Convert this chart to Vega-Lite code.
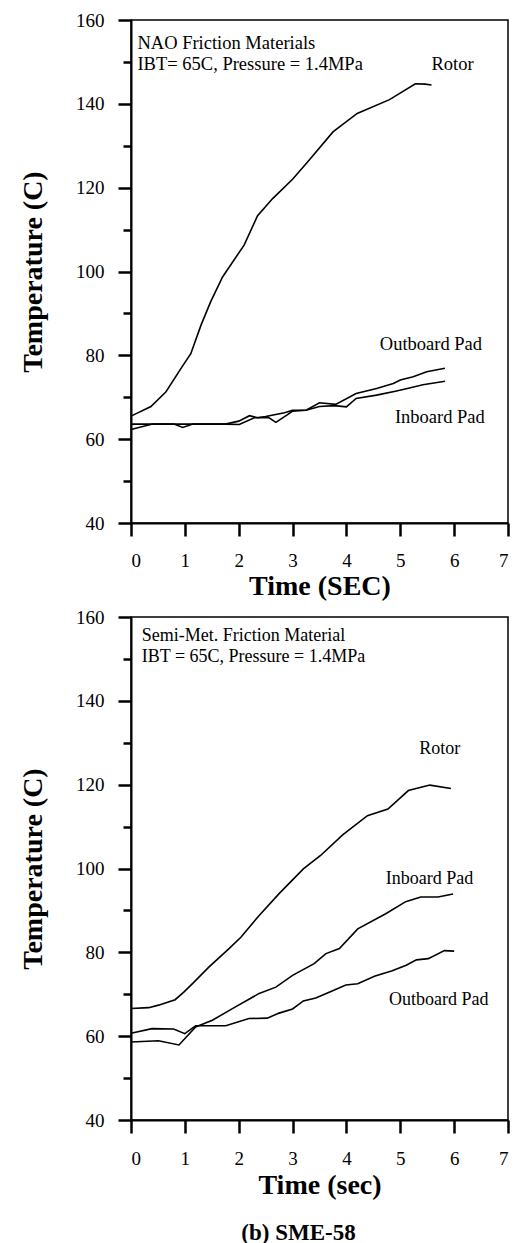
{
  "$schema": "https://vega.github.io/schema/vega-lite/v6.json",
  "padding": {"left": 18, "top": 10, "right": 4, "bottom": 2},
  "background": "white",
  "spacing": 6,
  "datasets": {
    "top": [
      {"series": "Rotor", "t": 0, "temp": 65.5}, {"series": "Rotor", "t": 0.37, "temp": 67.8}, {"series": "Rotor", "t": 0.65, "temp": 71.3}, {"series": "Rotor", "t": 0.95, "temp": 77.3}, {"series": "Rotor", "t": 1.11, "temp": 80.4}, {"series": "Rotor", "t": 1.3, "temp": 87.2}, {"series": "Rotor", "t": 1.48, "temp": 92.8}, {"series": "Rotor", "t": 1.7, "temp": 98.7}, {"series": "Rotor", "t": 2.1, "temp": 106.3}, {"series": "Rotor", "t": 2.35, "temp": 113.3}, {"series": "Rotor", "t": 2.63, "temp": 117.4}, {"series": "Rotor", "t": 3.0, "temp": 122}, {"series": "Rotor", "t": 3.31, "temp": 126.6}, {"series": "Rotor", "t": 3.75, "temp": 133.3}, {"series": "Rotor", "t": 4.2, "temp": 137.7}, {"series": "Rotor", "t": 4.8, "temp": 141}, {"series": "Rotor", "t": 5.28, "temp": 144.8}, {"series": "Rotor", "t": 5.46, "temp": 144.7}, {"series": "Rotor", "t": 5.58, "temp": 144.5},
      {"series": "Outboard Pad", "t": 0, "temp": 63.6}, {"series": "Outboard Pad", "t": 0.4, "temp": 63.6}, {"series": "Outboard Pad", "t": 1.0, "temp": 63.6}, {"series": "Outboard Pad", "t": 1.75, "temp": 63.6}, {"series": "Outboard Pad", "t": 2.0, "temp": 64.3}, {"series": "Outboard Pad", "t": 2.2, "temp": 65.6}, {"series": "Outboard Pad", "t": 2.35, "temp": 65.1}, {"series": "Outboard Pad", "t": 2.5, "temp": 65.4}, {"series": "Outboard Pad", "t": 2.85, "temp": 66.3}, {"series": "Outboard Pad", "t": 3.0, "temp": 66.9}, {"series": "Outboard Pad", "t": 3.25, "temp": 66.9}, {"series": "Outboard Pad", "t": 3.5, "temp": 68.7}, {"series": "Outboard Pad", "t": 3.8, "temp": 68.3}, {"series": "Outboard Pad", "t": 4.18, "temp": 70.9}, {"series": "Outboard Pad", "t": 4.56, "temp": 72.1}, {"series": "Outboard Pad", "t": 4.87, "temp": 73.3}, {"series": "Outboard Pad", "t": 5.0, "temp": 74.1}, {"series": "Outboard Pad", "t": 5.24, "temp": 74.9}, {"series": "Outboard Pad", "t": 5.49, "temp": 76.1}, {"series": "Outboard Pad", "t": 5.83, "temp": 76.9},
      {"series": "Inboard Pad", "t": 0, "temp": 62.3}, {"series": "Inboard Pad", "t": 0.4, "temp": 63.6}, {"series": "Inboard Pad", "t": 0.8, "temp": 63.6}, {"series": "Inboard Pad", "t": 0.96, "temp": 62.8}, {"series": "Inboard Pad", "t": 1.15, "temp": 63.6}, {"series": "Inboard Pad", "t": 1.75, "temp": 63.6}, {"series": "Inboard Pad", "t": 2.01, "temp": 63.5}, {"series": "Inboard Pad", "t": 2.29, "temp": 65.1}, {"series": "Inboard Pad", "t": 2.55, "temp": 65.2}, {"series": "Inboard Pad", "t": 2.69, "temp": 64.0}, {"series": "Inboard Pad", "t": 2.9, "temp": 65.8}, {"series": "Inboard Pad", "t": 3.0, "temp": 66.7}, {"series": "Inboard Pad", "t": 3.25, "temp": 66.9}, {"series": "Inboard Pad", "t": 3.5, "temp": 67.8}, {"series": "Inboard Pad", "t": 3.78, "temp": 68.0}, {"series": "Inboard Pad", "t": 4.0, "temp": 67.7}, {"series": "Inboard Pad", "t": 4.18, "temp": 69.7}, {"series": "Inboard Pad", "t": 4.56, "temp": 70.5}, {"series": "Inboard Pad", "t": 4.93, "temp": 71.5}, {"series": "Inboard Pad", "t": 5.17, "temp": 72.2}, {"series": "Inboard Pad", "t": 5.42, "temp": 73.0}, {"series": "Inboard Pad", "t": 5.83, "temp": 73.8}
    ],
    "topLabels": [
      {"t": 0.12, "temp": 154.4, "label": "NAO Friction Materials"},
      {"t": 0.12, "temp": 149.4, "label": "IBT= 65C, Pressure = 1.4MPa"},
      {"t": 5.58, "temp": 149.4, "label": "Rotor"},
      {"t": 4.62, "temp": 82.7, "label": "Outboard Pad"},
      {"t": 4.9, "temp": 65.3, "label": "Inboard Pad"}
    ],
    "bottom": [
      {"series": "Rotor", "t": 0, "temp": 66.6}, {"series": "Rotor", "t": 0.33, "temp": 66.8}, {"series": "Rotor", "t": 0.51, "temp": 67.4}, {"series": "Rotor", "t": 0.82, "temp": 68.7}, {"series": "Rotor", "t": 0.98, "temp": 70.5}, {"series": "Rotor", "t": 1.17, "temp": 72.9}, {"series": "Rotor", "t": 1.44, "temp": 76.4}, {"series": "Rotor", "t": 1.82, "temp": 80.9}, {"series": "Rotor", "t": 2.04, "temp": 83.6}, {"series": "Rotor", "t": 2.38, "temp": 88.8}, {"series": "Rotor", "t": 2.75, "temp": 94.0}, {"series": "Rotor", "t": 3.0, "temp": 97.3}, {"series": "Rotor", "t": 3.2, "temp": 99.9}, {"series": "Rotor", "t": 3.52, "temp": 103.1}, {"series": "Rotor", "t": 3.93, "temp": 108}, {"series": "Rotor", "t": 4.39, "temp": 112.6}, {"series": "Rotor", "t": 4.77, "temp": 114.2}, {"series": "Rotor", "t": 5.15, "temp": 118.6}, {"series": "Rotor", "t": 5.55, "temp": 119.9}, {"series": "Rotor", "t": 5.94, "temp": 119.1},
      {"series": "Inboard Pad", "t": 0, "temp": 58.6}, {"series": "Inboard Pad", "t": 0.51, "temp": 58.9}, {"series": "Inboard Pad", "t": 0.89, "temp": 57.9}, {"series": "Inboard Pad", "t": 1.2, "temp": 62.2}, {"series": "Inboard Pad", "t": 1.51, "temp": 63.8}, {"series": "Inboard Pad", "t": 1.94, "temp": 67.0}, {"series": "Inboard Pad", "t": 2.38, "temp": 70.2}, {"series": "Inboard Pad", "t": 2.69, "temp": 71.7}, {"series": "Inboard Pad", "t": 3.0, "temp": 74.5}, {"series": "Inboard Pad", "t": 3.4, "temp": 77.3}, {"series": "Inboard Pad", "t": 3.62, "temp": 79.7}, {"series": "Inboard Pad", "t": 3.87, "temp": 80.9}, {"series": "Inboard Pad", "t": 4.21, "temp": 85.6}, {"series": "Inboard Pad", "t": 4.73, "temp": 89.2}, {"series": "Inboard Pad", "t": 5.1, "temp": 92.1}, {"series": "Inboard Pad", "t": 5.38, "temp": 93.2}, {"series": "Inboard Pad", "t": 5.7, "temp": 93.2}, {"series": "Inboard Pad", "t": 5.98, "temp": 93.9},
      {"series": "Outboard Pad", "t": 0, "temp": 60.7}, {"series": "Outboard Pad", "t": 0.39, "temp": 61.8}, {"series": "Outboard Pad", "t": 0.79, "temp": 61.7}, {"series": "Outboard Pad", "t": 1.0, "temp": 60.6}, {"series": "Outboard Pad", "t": 1.2, "temp": 62.5}, {"series": "Outboard Pad", "t": 1.76, "temp": 62.5}, {"series": "Outboard Pad", "t": 2.19, "temp": 64.2}, {"series": "Outboard Pad", "t": 2.53, "temp": 64.3}, {"series": "Outboard Pad", "t": 2.75, "temp": 65.5}, {"series": "Outboard Pad", "t": 3.0, "temp": 66.5}, {"series": "Outboard Pad", "t": 3.2, "temp": 68.4}, {"series": "Outboard Pad", "t": 3.43, "temp": 69.1}, {"series": "Outboard Pad", "t": 3.68, "temp": 70.5}, {"series": "Outboard Pad", "t": 3.99, "temp": 72.2}, {"series": "Outboard Pad", "t": 4.21, "temp": 72.5}, {"series": "Outboard Pad", "t": 4.52, "temp": 74.3}, {"series": "Outboard Pad", "t": 4.85, "temp": 75.6}, {"series": "Outboard Pad", "t": 5.11, "temp": 76.9}, {"series": "Outboard Pad", "t": 5.3, "temp": 78.2}, {"series": "Outboard Pad", "t": 5.52, "temp": 78.5}, {"series": "Outboard Pad", "t": 5.82, "temp": 80.4}, {"series": "Outboard Pad", "t": 6.0, "temp": 80.3}
    ],
    "bottomLabels": [
      {"t": 0.2, "temp": 155.5, "label": "Semi-Met. Friction Material"},
      {"t": 0.2, "temp": 150.5, "label": "IBT = 65C, Pressure = 1.4MPa"},
      {"t": 5.35, "temp": 128.6, "label": "Rotor"},
      {"t": 4.73, "temp": 97.6, "label": "Inboard Pad"},
      {"t": 4.79, "temp": 68.6, "label": "Outboard Pad"}
    ]
  },
  "config": {
    "view": {"stroke": "black", "strokeWidth": 1.5},
    "axis": {
      "grid": false,
      "ticks": true,
      "domainColor": "black",
      "domainWidth": 2,
      "tickColor": "black",
      "tickWidth": 2.5,
      "tickSize": 13,
      "labelFont": "Liberation Serif",
      "labelFontSize": 19,
      "labelColor": "black",
      "labelOverlap": false,
      "titleFont": "Liberation Serif",
      "titleFontSize": 28,
      "titleFontWeight": "bold",
      "titleColor": "black",
      "zindex": 1
    },
    "text": {"font": "Liberation Serif", "fontSize": 18.5, "color": "black", "align": "left", "baseline": "middle"},
    "line": {"color": "black", "strokeWidth": 1.6}
  },
  "vconcat": [
    {
      "width": 377,
      "height": 503,
      "encoding": {
        "x": {"field": "t", "type": "quantitative", "scale": {"domain": [0, 7], "nice": false},
              "axis": {"title": "Time (SEC)", "values": [0, 1, 2, 3, 4, 5, 6, 7], "ticks": true, "tickSize": 13, "tickWidth": 2.5, "tickColor": "black", "labelPadding": 15, "titlePadding": 2}},
        "y": {"field": "temp", "type": "quantitative", "scale": {"domain": [40, 160], "nice": false, "zero": false},
              "axis": {"title": "Temperature (C)", "values": [40, 50, 60, 70, 80, 90, 100, 110, 120, 130, 140, 150, 160],
                       "labelExpr": "datum.value % 20 === 0 ? datum.label : ''",
                       "ticks": true, "tickSize": 13, "tickWidth": 2.5, "tickColor": "black",
                       "tickDash": {"condition": {"test": "datum.value % 20 !== 0", "value": [8, 40]}, "value": [100, 0]},
                       "labelPadding": 14, "titlePadding": 28}}
      },
      "layer": [
        {"data": {"name": "top"}, "mark": {"type": "line"}, "encoding": {"detail": {"field": "series"}}},
        {"data": {"name": "topLabels"}, "mark": {"type": "text", "fontSize": 18.5}, "encoding": {"text": {"field": "label"}}}
      ]
    },
    {
      "width": 377,
      "height": 503,
      "title": {"text": "(b) SME-58", "orient": "bottom", "anchor": "middle", "frame": "group", "dx": -21, "offset": 23,
                "font": "Liberation Serif", "fontSize": 23, "fontWeight": "bold", "color": "black"},
      "encoding": {
        "x": {"field": "t", "type": "quantitative", "scale": {"domain": [0, 7], "nice": false},
              "axis": {"title": "Time (sec)", "values": [0, 1, 2, 3, 4, 5, 6, 7], "ticks": true, "tickSize": 13, "tickWidth": 2.5, "tickColor": "black", "labelPadding": 16, "titlePadding": 3}},
        "y": {"field": "temp", "type": "quantitative", "scale": {"domain": [40, 160], "nice": false, "zero": false},
              "axis": {"title": "Temperature (C)", "values": [40, 50, 60, 70, 80, 90, 100, 110, 120, 130, 140, 150, 160],
                       "labelExpr": "datum.value % 20 === 0 ? datum.label : ''",
                       "ticks": true, "tickSize": 13, "tickWidth": 2.5, "tickColor": "black",
                       "tickDash": {"condition": {"test": "datum.value % 20 !== 0", "value": [8, 40]}, "value": [100, 0]},
                       "labelPadding": 14, "titlePadding": 28}}
      },
      "layer": [
        {"data": {"name": "bottom"}, "mark": {"type": "line"}, "encoding": {"detail": {"field": "series"}}},
        {"data": {"name": "bottomLabels"}, "mark": {"type": "text", "fontSize": 18}, "encoding": {"text": {"field": "label"}}}
      ]
    }
  ]
}
